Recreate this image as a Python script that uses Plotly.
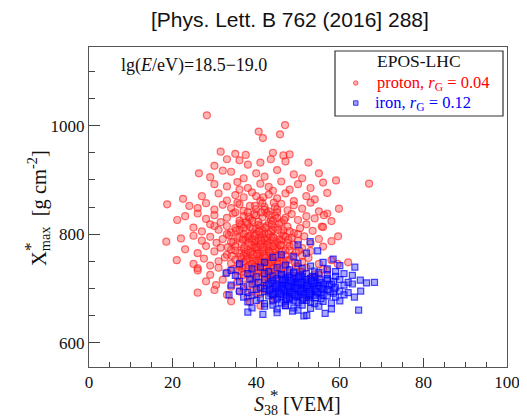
import plotly.graph_objects as go

# ---------------- data ----------------
proton_points = [
    (28.2, 1019), (46.9, 1001), (40.6, 989), (45.7, 984), (41.6, 977),
    (31.5, 952), (35, 948), (37.5, 946), (44, 950), (46.5, 945), (48, 947),
    (33, 938), (36, 936), (41, 932), (43.5, 938), (47, 934), (52.5, 932), (30, 926), (38, 928),
    (26.3, 912), (32, 917), (34, 915), (40, 912), (45, 918), (49, 910), (55, 912), (59.1, 899),
    (67, 893), (29, 905), (37, 903), (42, 906), (51, 903),
    (30, 892), (33, 888), (35.5, 896), (38, 885), (41, 893), (43, 887), (46, 897), (48, 882),
    (50, 892), (53, 885), (56, 895), (36, 882), (44, 880),
    (22.5, 865), (27, 870), (31, 875), (33, 862), (35, 872), (37, 868), (39, 877), (41, 862),
    (43, 873), (45, 866), (47, 875), (49, 861), (52, 870), (54, 864), (57, 876), (40, 870),
    (18.7, 855), (24, 852), (26, 848), (28, 857), (30, 845), (32, 854), (34, 848), (35.5, 858),
    (37, 843), (38.5, 852), (40, 846), (41.5, 857), (43, 842), (44.5, 850), (46, 856), (47.5, 844),
    (49, 853), (51, 847), (53, 858), (55, 842), (59.8, 847), (36, 855), (42, 850), (45, 845),
    (21.1, 826), (23, 833), (26, 838), (28, 828), (30, 835), (31.5, 822), (33, 830), (34.5, 838),
    (36, 825), (37, 833), (38.5, 828), (39.5, 837), (40.5, 823), (41.5, 831), (42.5, 839),
    (43.5, 826), (44.5, 834), (46, 822), (47, 830), (48.5, 837), (50, 826), (52, 833), (54, 829),
    (57, 838), (58, 824), (35, 840), (45, 840), (55.7, 814), (56.2, 835),
    (25, 812), (27, 805), (29, 818), (31, 808), (33, 815), (34, 803), (35, 811), (36.5, 818),
    (37.5, 806), (38.5, 813), (39.5, 802), (40.5, 817), (41.5, 808), (42.5, 815), (43.5, 804),
    (44.5, 812), (45.5, 819), (46.5, 807), (47.5, 814), (49, 802), (50.5, 811), (52, 818),
    (53.5, 806), (56, 813), (59.6, 796), (30, 815), (36, 808), (40, 810), (44, 808), (48, 805),
    (38, 819), (42, 801), (46, 803),
    (18.5, 786), (22, 792), (25, 797), (27, 788), (29, 795), (30.5, 784), (32, 791), (33.5, 798),
    (34.5, 786), (35.5, 793), (36.5, 781), (37.5, 789), (38.5, 797), (39.5, 784), (40.5, 792),
    (41.5, 799), (42.5, 787), (43.5, 795), (44.5, 782), (45.5, 790), (46.5, 797), (47.5, 785),
    (48.5, 793), (50, 788), (51.5, 796), (53, 783), (55, 791), (58, 787), (38, 792), (40, 787),
    (42, 793), (44, 788), (36, 795), (46, 789), (41, 782),
    (23, 772), (26, 765), (28, 778), (30, 768), (31.5, 775), (33, 762), (34, 771), (35, 778),
    (36, 765), (37, 773), (38, 761), (39, 769), (40, 777), (41, 764), (42, 772), (43, 779),
    (44, 767), (45, 775), (46, 762), (47, 770), (48, 778), (49.5, 766), (51, 774), (53, 769),
    (56, 777), (39.5, 775), (41.5, 768), (43.5, 763), (37.5, 767), (45.5, 771), (42.5, 776),
    (40.5, 771), (44.5, 772),
    (21, 752), (25, 745), (27.5, 755), (29, 742), (31, 750), (32.5, 757), (34, 746), (35, 753),
    (36, 741), (37, 749), (38, 756), (39, 744), (40, 752), (41, 759), (42, 747), (43, 754),
    (44, 742), (45, 750), (46, 757), (47, 745), (48, 753), (49.5, 741), (51, 749), (52.5, 756),
    (55, 745), (58, 752), (62, 748), (38.5, 750), (40.5, 745), (42.5, 751), (44.5, 747),
    (36.5, 754), (46.5, 749), (26, 737),
    (26, 733), (29, 725), (31, 738), (33, 729), (34.5, 736), (35.5, 722), (36.5, 731),
    (37.5, 738), (38.5, 726), (39.5, 734), (40.5, 721), (41.5, 729), (42.5, 737), (43.5, 724),
    (44.5, 732), (45.5, 739), (46.5, 727), (47.5, 735), (49, 723), (50.5, 731), (52, 738),
    (54, 726), (57, 733), (41, 733), (43, 729), (39, 728), (45, 726),
    (28, 713), (30.4, 706), (32, 716), (34, 703), (35.5, 711), (37, 718), (38, 705), (39.5, 713),
    (41, 701), (42, 709), (43, 717), (44.5, 704), (46, 712), (47, 719), (48.5, 706), (50, 714),
    (52, 702), (54, 711), (49, 716), (40, 707),
    (26, 692), (30, 697), (33, 688), (36, 694), (38, 684), (40, 691), (42, 698), (44, 686),
    (46, 693), (48, 688), (51, 696), (37, 699), (52, 684),
    (38.5, 675), (41, 668), (44, 678), (47, 672), (34, 676),
    (37, 800), (38, 795), (39, 790), (40, 800), (41, 795), (42, 790), (43, 800), (44, 795),
    (45, 785), (39, 780), (40, 775), (41, 780), (42, 783), (43, 770), (44, 778), (38, 770),
    (37, 760), (39, 757), (41, 755), (43, 760), (45, 758), (40, 740), (42, 738), (44, 742),
    (46, 735), (38, 735), (36, 745), (41, 815), (43, 820), (39, 825), (45, 830), (37, 812),
    (47, 795), (48, 770), (47, 760), (46, 780), (42, 760), (40, 760), (44, 752), (39, 745),
    (43, 745), (41, 742), (37, 725), (39, 718), (42, 722), (44, 715), (46, 722), (48, 728),
    (50, 740), (51, 760), (49, 780), (50, 800), (35, 770), (34, 785), (33, 800), (36, 820),
    (40, 835), (42, 845), (44, 825), (38, 840),
    (45, 700), (47, 697), (48, 690), (50, 703), (52, 710), (53, 720), (55, 725), (56, 735),
    (59.5, 745), (46, 715), (49, 722), (51, 730), (43, 695), (41, 690), (39, 695),
    (36.8, 790), (38.2, 784), (39.7, 797), (41.2, 788), (42.7, 781), (44.2, 793), (45.7, 779),
    (37.2, 776), (38.7, 766), (40.2, 764), (41.7, 776), (43.2, 766), (44.7, 760), (46.2, 768),
    (36.2, 758), (37.7, 752), (39.2, 762), (40.7, 750), (42.2, 756), (43.7, 749), (45.2, 744),
    (36.7, 737), (38.2, 742), (39.7, 739), (41.2, 747), (42.7, 732), (44.2, 738), (47.2, 751),
    (35.2, 807), (37.7, 822), (39.2, 810), (40.7, 805), (42.2, 812), (43.7, 818), (45.2, 808),
    (46.7, 826), (38.2, 832), (41.2, 840), (43.2, 835), (39.7, 852), (44.2, 858), (41.7, 868),
    (47.7, 790), (48.7, 760), (49.2, 748), (50.2, 770), (34.2, 760), (33.2, 776), (35.7, 733),
    (40.2, 728), (42.2, 714), (44.7, 725), (46.7, 740), (47.7, 708), (45.2, 693), (49.7, 697),
]

iron_points = [
    (52.9, 786), (50, 780),
    (54.7, 769), (58.4, 754), (46, 762), (49, 758), (52, 765), (44, 757),
    (36, 745), (42, 748), (47, 743), (50, 746), (53, 741), (56, 748), (60, 742), (63.6, 739),
    (34, 733), (39, 736), (43, 731), (45, 738), (48, 734), (51, 737), (54, 732), (57, 736),
    (59, 731), (41, 739), (32.8, 728),
    (35, 724), (38, 727), (40, 721), (42, 728), (44, 723), (46, 726), (47.5, 721), (49, 728),
    (50.5, 724), (52, 727), (53.5, 722), (55, 729), (57, 725), (59, 722), (61, 727), (63, 724),
    (36, 713), (38.5, 717), (40.5, 711), (42, 716), (43.5, 712), (45, 718), (46.5, 714),
    (48, 711), (49, 717), (50, 713), (51, 719), (52.5, 712), (54, 716), (55.5, 711), (57, 718),
    (58.5, 713), (60, 716), (62, 711), (64.9, 715), (44, 715), (47, 719), (53, 718),
    (34, 706), (37, 703), (39, 708), (41, 701), (42.5, 705), (44, 709), (45.5, 703), (46.5, 707),
    (47.5, 701), (48.5, 705), (49.5, 709), (50.5, 703), (51.5, 707), (52.5, 701), (53.5, 705),
    (54.5, 709), (56, 703), (57.5, 707), (59, 702), (61, 706), (63, 708), (66.4, 710),
    (68.3, 711), (65, 695), (50, 706), (48, 708), (52, 709), (46, 705),
    (36, 695), (38, 692), (40, 698), (42, 694), (43.5, 691), (45, 697), (46, 693), (47, 699),
    (48, 690), (49, 695), (50, 692), (51, 698), (52, 694), (53, 690), (54, 696), (55.5, 693),
    (57, 698), (58.5, 691), (60, 695), (62, 692), (44, 694), (47.5, 696),
    (33.5, 688), (37, 684), (39, 687), (41, 682), (43, 686), (45, 683), (46.5, 688), (48, 681),
    (49.5, 685), (51, 689), (52.5, 683), (54, 687), (55.5, 681), (57, 686), (59, 684), (61, 688),
    (63.5, 684), (50, 687), (44, 689),
    (38, 675), (40, 678), (42, 672), (44, 677), (46, 673), (48, 679), (50, 674), (52, 678),
    (54, 672), (56, 676), (58, 673), (60, 677), (47, 676),
    (39, 664), (42, 667), (45, 662), (47, 668), (49, 664), (51, 669), (53, 663), (55, 667),
    (58, 662), (64.5, 660), (44, 669),
    (38, 656), (41.6, 652), (48.7, 658), (51.4, 649), (56.5, 654), (52.1, 650), (45, 655),
    (46, 700), (47, 710), (48, 700), (49, 702), (50, 698), (51, 702), (52, 700), (53, 706),
    (54, 700), (49, 712), (51, 714), (47, 690), (50, 684), (53, 688), (45, 708), (55, 705),
    (48, 720), (51, 722), (54, 720), (46, 685), (49, 678), (52, 686), (56, 700), (58, 708),
    (44, 700), (43, 708), (47, 715), (50, 718), (53, 695), (55, 690), (57, 715), (42, 700),
    (44, 690), (51, 678), (48, 695), (52, 716), (46, 725), (49, 730), (54, 712), (56, 688),
    (50, 708), (48, 684), (53, 675), (45, 680), (47, 668), (50, 660),
    (46.7, 697), (47.7, 704), (48.7, 692), (49.7, 700), (50.7, 695), (51.7, 690), (52.7, 698),
    (53.7, 709), (54.7, 693), (55.7, 699), (45.7, 690), (44.7, 704), (48.2, 714), (50.2, 721),
    (52.2, 705), (53.2, 714), (55.2, 716), (56.2, 708), (57.7, 694), (49.2, 688), (51.2, 682),
    (47.2, 682), (54.2, 683), (43.2, 697), (46.2, 716), (50.7, 711), (52.7, 691), (58.7, 699),
]

proton_s = [p[0] for p in proton_points]
proton_xmax = [p[1] for p in proton_points]
iron_s = [p[0] for p in iron_points]
iron_xmax = [p[1] for p in iron_points]

x_ticks = [0, 20, 40, 60, 80, 100]
y_ticks = [600, 800, 1000]

SERIF = "Liberation Serif, Times New Roman, serif"
SANS = "Liberation Sans, Arial, sans-serif"

fig = go.Figure()
fig.add_trace(go.Scatter(
    x=proton_s, y=proton_xmax, mode="markers", name="proton",
    marker=dict(symbol="circle", size=7, color="rgba(255,70,70,0.4)",
                line=dict(color="rgba(255,20,20,0.6)", width=1.2)),
    showlegend=False))
fig.add_trace(go.Scatter(
    x=iron_s, y=iron_xmax, mode="markers", name="iron",
    marker=dict(symbol="square", size=6, color="rgba(40,40,255,0.4)",
                line=dict(color="rgba(0,0,255,0.7)", width=1.2)),
    showlegend=False))

axis_common = dict(showgrid=False, zeroline=False, showline=True, linecolor="#555",
                   linewidth=1, mirror=True, ticks="inside", tickcolor="#444",
                   tickfont=dict(family=SERIF, size=17, color="#111"))

fig.update_xaxes(range=[0, 100], tickvals=x_ticks, ticklen=9,
                 minor=dict(ticks="inside", dtick=5, ticklen=5, tickcolor="#444"),
                 **axis_common)
fig.update_yaxes(range=[555, 1145], tickvals=y_ticks, ticklen=11,
                 minor=dict(ticks="inside", dtick=50, ticklen=6, tickcolor="#444"),
                 **axis_common)

# screen-pixel helpers (plot area spans x 89..507, y 47..367 on screen)
def px(xp):
    return (xp - 89) / 418.0

def py(yp):
    return (367 - yp) / 320.0

ann = []
ann.append(dict(text="[Phys. Lett. B 762 (2016] 288]", x=px(290), y=py(19),
                xref="paper", yref="paper", showarrow=False,
                font=dict(family=SANS, size=21, color="#111"), xanchor="center", yanchor="middle"))
ann.append(dict(text="lg(<i>E</i>/eV)=18.5\u221219.0", x=px(119), y=py(66),
                xref="paper", yref="paper", showarrow=False, xanchor="left", yanchor="middle",
                font=dict(family=SERIF, size=18, color="#111")))
ann.append(dict(text="EPOS-LHC", x=px(419), y=py(61), xref="paper", yref="paper",
                showarrow=False, xanchor="center", yanchor="middle",
                font=dict(family=SERIF, size=17.5, color="#111")))
ann.append(dict(text="proton, <i>r</i><sub>G</sub> = 0.04", x=px(375), y=py(83),
                xref="paper", yref="paper", showarrow=False, xanchor="left", yanchor="middle",
                font=dict(family=SERIF, size=16.5, color="#ff0000")))
ann.append(dict(text="iron, <i>r</i><sub>G</sub> = 0.12", x=px(373), y=py(103),
                xref="paper", yref="paper", showarrow=False, xanchor="left", yanchor="middle",
                font=dict(family=SERIF, size=16.5, color="#0000ff")))
# axis titles
ann.append(dict(text="<i>S</i><sub>38</sub> [VEM]", x=px(297), y=py(405),
                xref="paper", yref="paper", showarrow=False, xanchor="center", yanchor="middle",
                font=dict(family=SERIF, size=20, color="#111")))
ann.append(dict(text="*", x=px(274), y=py(395), xref="paper", yref="paper", showarrow=False,
                xanchor="center", yanchor="middle", font=dict(family=SERIF, size=17, color="#111")))
ann.append(dict(text="X<sub>max</sub>  [g cm<sup>-2</sup>]", x=px(38), y=py(208),
                xref="paper", yref="paper", showarrow=False, textangle=-90,
                xanchor="center", yanchor="middle", font=dict(family=SERIF, size=20.5, color="#111")))
ann.append(dict(text="*", x=px(30), y=py(247), xref="paper", yref="paper", showarrow=False,
                textangle=-90, xanchor="center", yanchor="middle",
                font=dict(family=SERIF, size=17, color="#111")))

shapes = [
    dict(type="rect", xref="paper", yref="paper", x0=px(335), x1=px(503), y0=py(116), y1=py(51),
         line=dict(color="#333", width=1.2), fillcolor="white", layer="above"),
    dict(type="circle", xref="paper", yref="paper", x0=px(353.5), x1=px(358), y0=py(85.3), y1=py(80.8),
         line=dict(color="rgba(255,20,20,0.6)", width=1), fillcolor="rgba(255,70,70,0.45)", layer="above"),
    dict(type="rect", xref="paper", yref="paper", x0=px(353.5), x1=px(358), y0=py(105.3), y1=py(100.8),
         line=dict(color="rgba(0,0,255,0.7)", width=1), fillcolor="rgba(40,40,255,0.45)", layer="above"),
]

# The page body adds an 8px offset; margins compensate so the plot area sits at x 89..507, y 47..367.
fig.update_layout(
    width=527, height=419,
    margin=dict(l=81, r=28, t=39, b=60),
    paper_bgcolor="white", plot_bgcolor="white",
    annotations=ann, shapes=shapes, showlegend=False,
)

fig.write_html("out.html")
